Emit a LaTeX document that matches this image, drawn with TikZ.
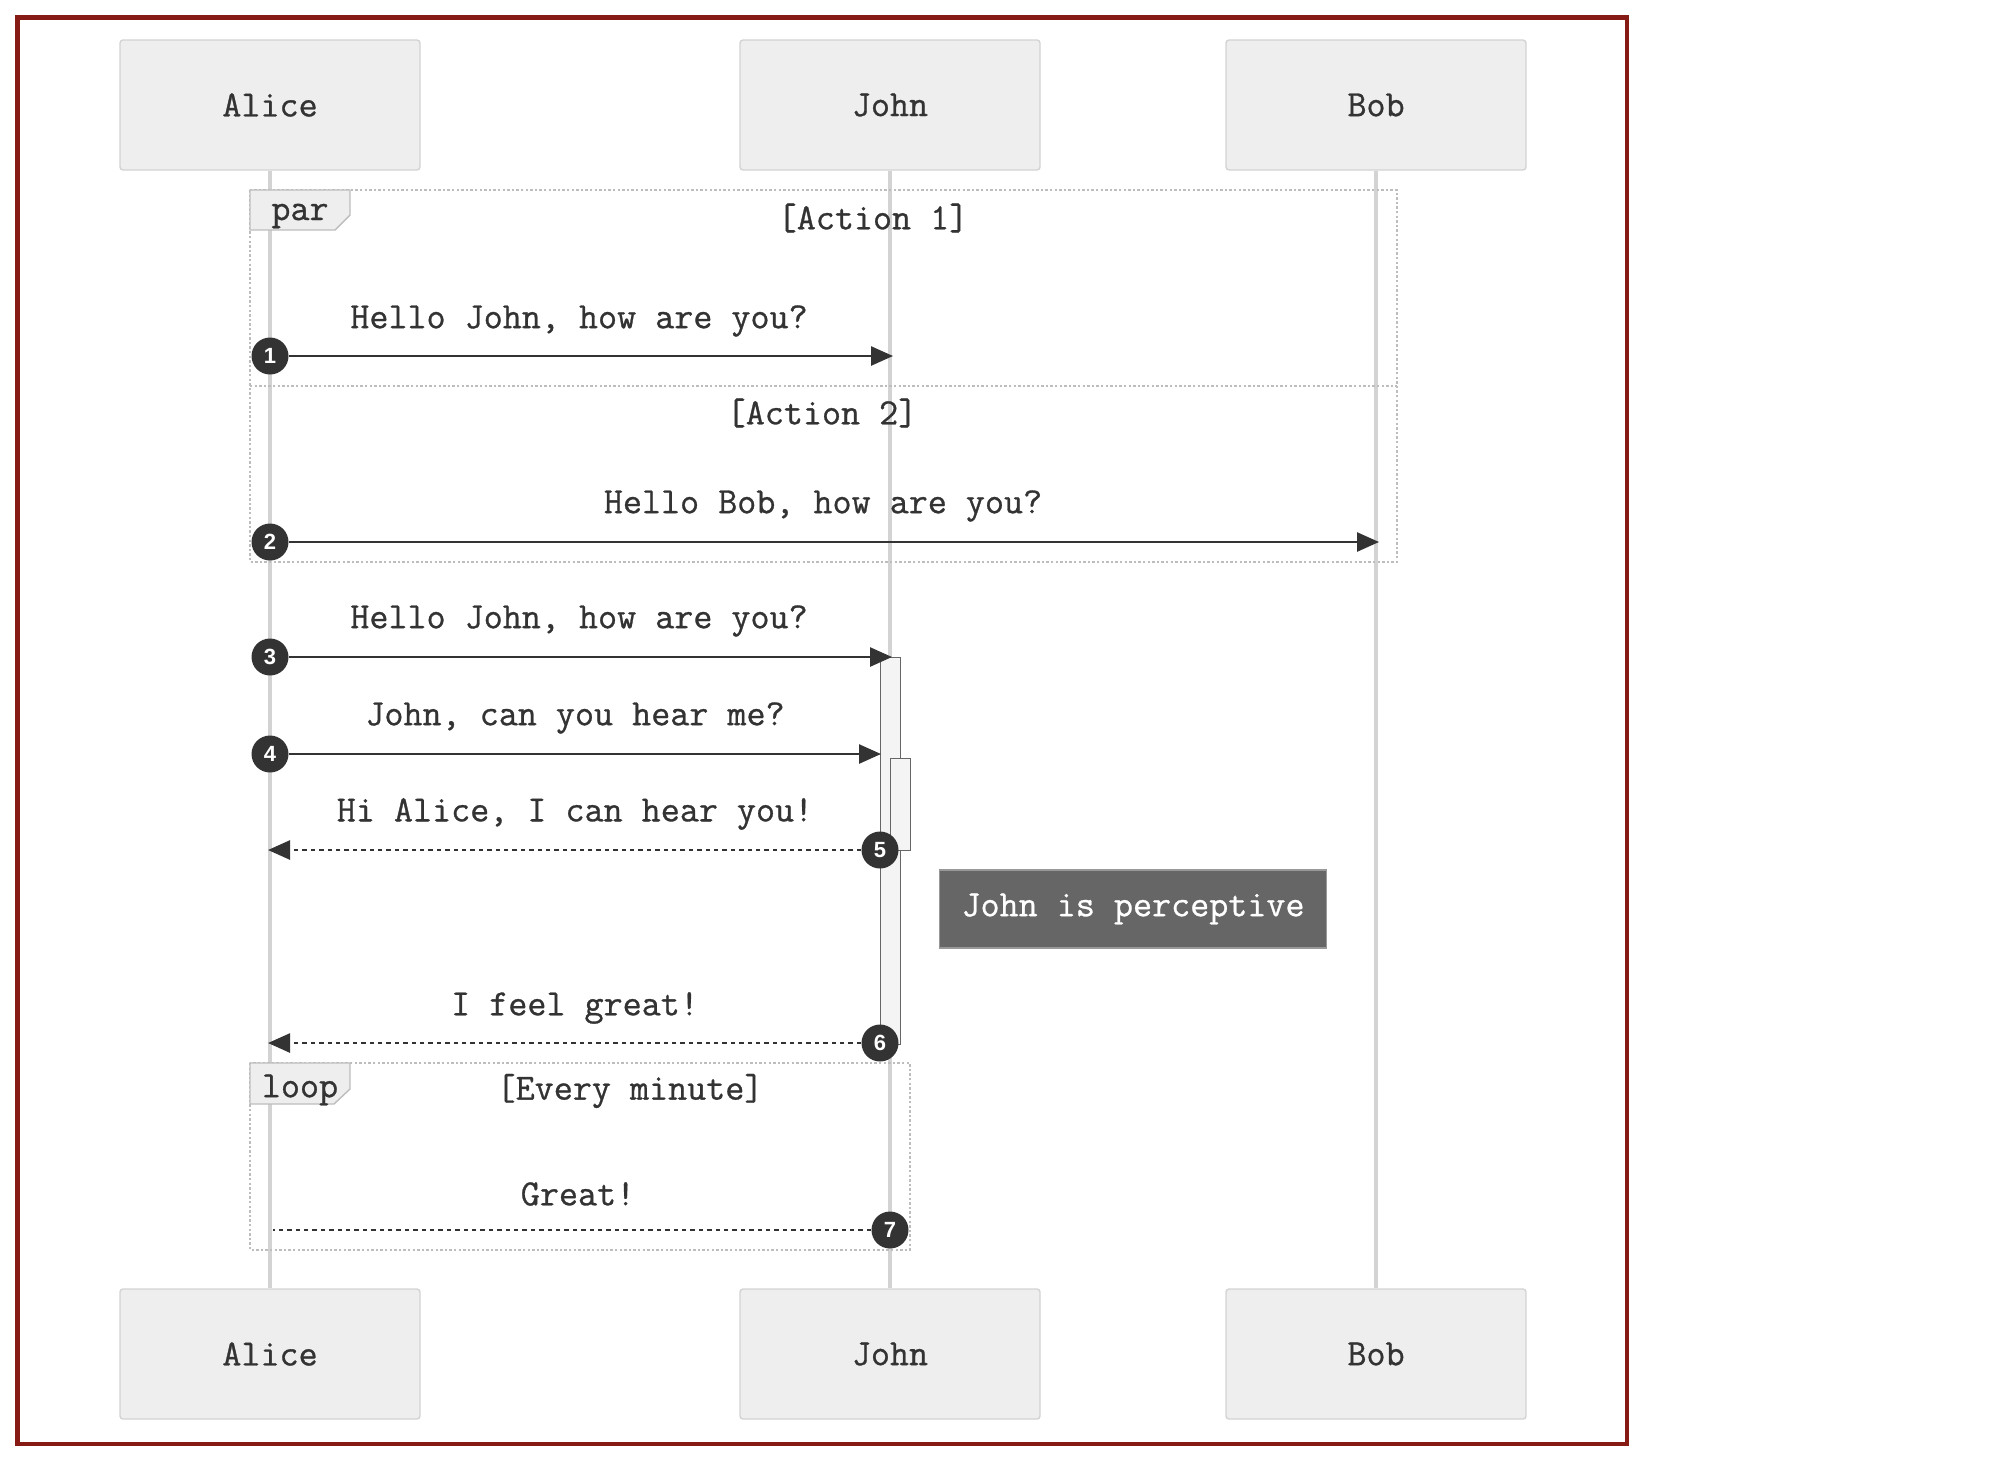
\documentclass[tikz,border=0pt]{standalone}
\usepackage{fontspec}
\setsansfont{Liberation Sans}
\newfontfamily\seqfont{Latin Modern Mono}[FakeBold=0.8]
\usetikzlibrary{arrows.meta,positioning}
\definecolor{SeqInk}{HTML}{333333}
\definecolor{SeqLine}{HTML}{D3D3D3}
\definecolor{SeqFill}{HTML}{EEEEEE}
\definecolor{SeqFrame}{HTML}{BDBDBD}
\definecolor{SeqNote}{HTML}{666666}
\definecolor{SeqNoteEdge}{HTML}{999999}
\definecolor{SeqAct}{HTML}{F4F4F4}
\definecolor{SeqBorder}{HTML}{861B16}

\begin{document}
\begin{tikzpicture}[
  x=0.5pt,y=-0.5pt,
  font=\seqfont\fontsize{18.5}{20}\selectfont,
  actor/.style={draw=SeqLine,fill=SeqFill,rounded corners=1.5pt,line width=0.7pt,
    minimum width=150pt,minimum height=65pt,text=SeqInk},
  life/.style={draw=SeqLine,line width=1.6pt},
  frame/.style={draw=SeqFrame,line width=1.4pt,dash pattern=on 1.2pt off 1.1pt},
  tab/.style={draw=SeqFrame,fill=SeqFill,line width=0.7pt},
  guard/.style={text=SeqInk},
  msg/.style={-{Triangle[length=11pt,width=9.5pt]},draw=SeqInk,line width=1.3pt},
  reply/.style={msg,dash pattern=on 2.2pt off 2pt},
  plain/.style={draw=SeqInk,line width=1.3pt,dash pattern=on 2.2pt off 2pt},
  label/.style={text=SeqInk},
  seqnum/.style={circle,fill=SeqInk,text=white,inner sep=0pt,minimum size=18.5pt,
    font=\sffamily\bfseries\fontsize{11}{12}\selectfont},
  act/.style={draw=SeqNote,fill=SeqAct,line width=0.5pt},
  note/.style={draw=SeqNoteEdge,fill=SeqNote,text=white,line width=0.8pt,
    minimum width=193.5pt,minimum height=39pt}
]
\useasboundingbox (0,0) rectangle (2000,1462);
\draw[draw=SeqBorder,line width=2.2pt] (17.5,17.5) rectangle (1627,1444);

% Participants, top and bottom, joined by their lifelines.
\node[actor] (alice) at (270,105) {Alice};
\node[actor] (john) at (890,105) {John};
\node[actor] (bob) at (1376,105) {Bob};
\node[actor] (alice2) at (270,1354) {Alice};
\node[actor] (john2) at (890,1354) {John};
\node[actor] (bob2) at (1376,1354) {Bob};
\draw[life] (alice) -- (alice2);
\draw[life] (john) -- (john2);
\draw[life] (bob) -- (bob2);

% par block with two branches.
\draw[frame] (250,190) rectangle (1397,562);
\draw[frame] (250,386) -- (1397,386);
\draw[tab] (250,190) -- (350,190) -- (350,215) -- (335,230) -- (250,230) -- cycle;
\node[guard] (partag) at (300,216) {par};
\node[guard] (act1) at (873,218) {[Action 1]};
\node[guard] (act2) at (822,413) {[Action 2]};

% loop block.
\draw[frame] (250,1063) rectangle (910,1250);
\draw[tab] (250,1063) -- (350,1063) -- (350,1089) -- (334,1104) -- (250,1104) -- cycle;
\node[guard] (looptag) at (300,1090) {loop};
\node[guard] (every) at (630,1091) {[Every minute]};

% Activations on John.
\draw[act] (880,657) rectangle (900,1044);
\draw[act] (890,758) rectangle (910,850);

% Messages.
\node[seqnum] (n1) at (270,356) {1};
\coordinate (j1) at (893,356);
\draw[msg] (n1) -- (j1);
\node[label] (l1) at (579,321) {Hello John, how are you?};

\node[seqnum] (n2) at (270,542) {2};
\coordinate (b2) at (1379,542);
\draw[msg] (n2) -- (b2);
\node[label] (l2) at (823,506) {Hello Bob, how are you?};

\node[seqnum] (n3) at (270,657) {3};
\coordinate (j3) at (892,657);
\draw[msg] (n3) -- (j3);
\node[label] (l3) at (579,621) {Hello John, how are you?};

\node[seqnum] (n4) at (270,754) {4};
\coordinate (j4) at (881,754);
\draw[msg] (n4) -- (j4);
\node[label] (l4) at (575,718) {John, can you hear me?};

\coordinate (a5) at (268,850);
\node[seqnum] (n5) at (880,850) {5};
\draw[reply] (n5) -- (a5);
\node[label] (l5) at (575,814) {Hi Alice, I can hear you!};

\node[note] (perceptive) at (1133,909) {John is perceptive};

\coordinate (a6) at (268,1043);
\node[seqnum] (n6) at (880,1043) {6};
\draw[reply] (n6) -- (a6);
\node[label] (l6) at (575,1008) {I feel great!};

\coordinate (a7) at (273,1230);
\node[seqnum] (n7) at (890,1230) {7};
\draw[plain] (n7) -- (a7);
\node[label] (l7) at (578,1194) {Great!};

\end{tikzpicture}
\end{document}
